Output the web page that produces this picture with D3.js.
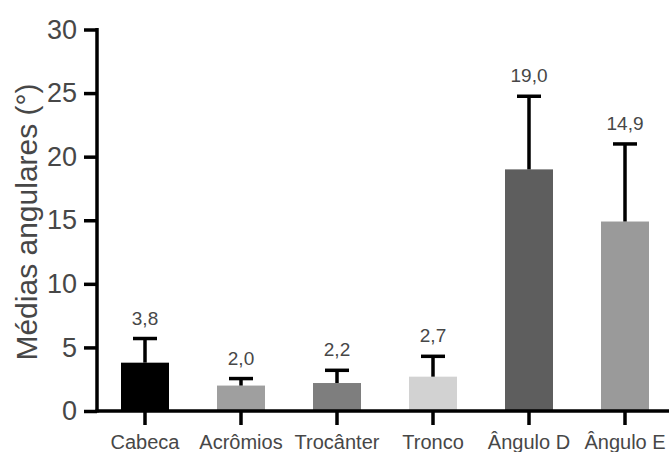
<!DOCTYPE html>
<html><head><meta charset="utf-8">
<script src="https://cdn.jsdelivr.net/npm/d3@7"></script>
<style>body{margin:0;background:#fff}svg{display:block}</style>
</head><body>
<script>
const categories = ["Cabeca","Acrômios","Trocânter","Tronco","Ângulo D","Ângulo E"];
const means = [3.8, 2.0, 2.2, 2.7, 19.0, 14.9];
const sds = [1.9, 0.55, 1.0, 1.6, 5.75, 6.1];
const valueLabels = ["3,8","2,0","2,2","2,7","19,0","14,9"];
const colors = ["#000000","#9f9f9f","#7e7e7e","#d2d2d2","#5e5e5e","#9a9a9a"];
const yTicks = [0,5,10,15,20,25,30];

const W = 669, H = 452;
const svg = d3.select("body").append("svg").attr("width", W).attr("height", H);
const y = d3.scaleLinear().domain([0,30]).range([411, 29.5]);
const x = d3.scaleBand().domain(categories).range([97, 673]).paddingInner(0.5).paddingOuter(0.25);

const font = "Liberation Sans, Arial, sans-serif";
const textCol = "#474747";

// bars
svg.selectAll("rect.bar").data(categories).join("rect")
  .attr("x", d => x(d)).attr("width", x.bandwidth())
  .attr("y", (d,i) => y(means[i])).attr("height", (d,i) => y(0) - y(means[i]))
  .attr("fill", (d,i) => colors[i]);

// error bars
const eg = svg.append("g").attr("stroke", "#000").attr("stroke-width", 3.5);
categories.forEach((c,i) => {
  const cx = x(c) + x.bandwidth()/2;
  eg.append("line").attr("x1", cx).attr("x2", cx).attr("y1", y(means[i])).attr("y2", y(means[i]+sds[i]));
  eg.append("line").attr("x1", cx-12).attr("x2", cx+12).attr("y1", y(means[i]+sds[i])).attr("y2", y(means[i]+sds[i]));
});

// value labels
svg.selectAll("text.val").data(categories).join("text")
  .attr("x", d => x(d) + x.bandwidth()/2)
  .attr("y", (d,i) => y(means[i]+sds[i]) - 14)
  .attr("text-anchor","middle").attr("font-family", font).attr("font-size", 19)
  .attr("fill", textCol).text((d,i) => valueLabels[i]);

// y axis
const yAxis = svg.append("g").attr("transform","translate(97,0)")
  .call(d3.axisLeft(y).tickValues(yTicks).tickSize(13).tickPadding(7));
yAxis.select(".domain").attr("stroke","#000").attr("stroke-width",3.5).attr("d", `M0,${y(30)-1.5}V${y(0)+1.5}`);
yAxis.selectAll(".tick line").attr("stroke","#000").attr("stroke-width",3.5);
yAxis.selectAll(".tick text").attr("font-family", font).attr("font-size", 27).attr("fill", textCol);

// x axis
const xAxis = svg.append("g").attr("transform",`translate(0,${y(0)})`)
  .call(d3.axisBottom(x).tickSize(14).tickPadding(10));
xAxis.select(".domain").attr("stroke","#000").attr("stroke-width",3.5).attr("d", `M95.5,0H${W}`);
xAxis.selectAll(".tick line").attr("stroke","#000").attr("stroke-width",3.5);
xAxis.selectAll(".tick text").attr("font-family", font).attr("font-size", 20).attr("fill", textCol);

// y title
svg.append("text").attr("transform","translate(37,222) rotate(-90)")
  .attr("text-anchor","middle").attr("font-family", font).attr("font-size", 30)
  .attr("fill", textCol).text("Médias angulares (°)");
</script>
</body></html>
